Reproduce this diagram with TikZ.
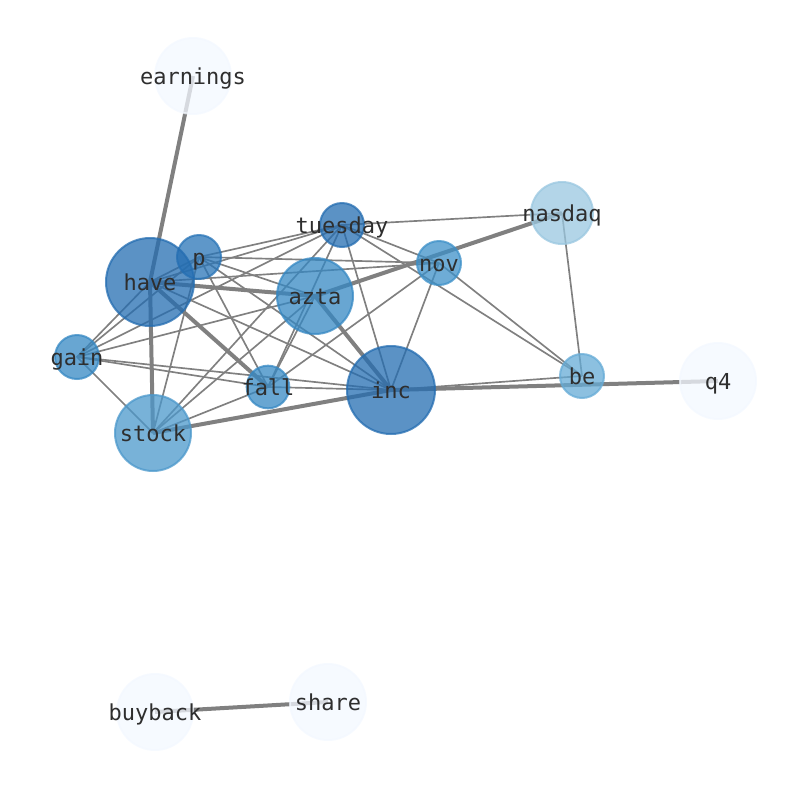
\documentclass[tikz,border=0pt]{standalone}
\usepackage{fontspec}
\setmonofont{DejaVu Sans Mono}
\usepackage{tikz}
\usetikzlibrary{calc}
\pgfdeclarelayer{edges}
\pgfsetlayers{edges,main}

\definecolor{bluedark}{RGB}{36,109,177}
\definecolor{bluep}{RGB}{40,116,183}
\definecolor{bluemid}{RGB}{53,136,195}
\definecolor{bluenov}{RGB}{61,144,200}
\definecolor{bluestock}{RGB}{75,152,203}
\definecolor{bluebe}{RGB}{101,171,214}
\definecolor{bluepale}{RGB}{154,199,224}
\definecolor{bluewhite}{RGB}{243,248,255}

\begin{document}
\begin{tikzpicture}[x=0.75pt,y=-0.75pt,
	word/.style={circle,inner sep=0pt,fill=#1,draw=#1,fill opacity=0.75,draw opacity=0.75,line width=1.5pt},
	tag/.style={inner sep=0pt,text height=13pt,text depth=1pt,text=black!82,text opacity=1,font=\fontsize{16.5}{16.5}\selectfont\ttfamily},
	link/.style={line width=1.25pt,color=black!50},
	heavy/.style={line width=3pt,color=black!50}]
		%%%%% START %%%%%
		
		\useasboundingbox (0,0) rectangle (794,790);
		
		\node[word=bluewhite, minimum size=57pt, label={[tag]center:earnings}] (earnings) at (193, 76) {};
		\node[word=bluepale, minimum size=46.5pt, label={[tag]center:nasdaq}] (nasdaq) at (562, 213) {};
		\node[word=bluedark, minimum size=33pt, label={[tag]center:tuesday}] (tuesday) at (342, 225) {};
		\node[word=bluep, minimum size=33pt, label={[tag]center:p}] (p) at (199, 257) {};
		\node[word=bluedark, minimum size=66pt, label={[tag]center:have}] (have) at (150, 282) {};
		\node[word=bluenov, minimum size=33pt, label={[tag]center:nov}] (nov) at (439, 263) {};
		\node[word=bluemid, minimum size=57pt, label={[tag]center:azta}] (azta) at (315, 296) {};
		\node[word=bluemid, minimum size=33pt, label={[tag]center:gain}] (gain) at (77, 357) {};
		\node[word=bluemid, minimum size=32pt, label={[tag]center:fall}] (fall) at (268, 387) {};
		\node[word=bluedark, minimum size=66pt, label={[tag]center:inc}] (inc) at (391, 390) {};
		\node[word=bluestock, minimum size=57pt, label={[tag]center:stock}] (stock) at (153, 433) {};
		\node[word=bluebe, minimum size=33pt, label={[tag]center:be}] (be) at (582, 376) {};
		\node[word=bluewhite, minimum size=57pt, label={[tag]center:q4}] (q4) at (718, 381) {};
		\node[word=bluewhite, minimum size=57pt, label={[tag]center:buyback}] (buyback) at (155, 712) {};
		\node[word=bluewhite, minimum size=57pt, label={[tag]center:share}] (share) at (328, 702) {};
		
		\begin{pgfonlayer}{edges}
		\foreach \a/\b in {have/p, have/tuesday, have/nov, have/inc, have/gain,
			p/tuesday, p/nov, p/azta, p/inc, p/fall, p/gain, p/stock,
			tuesday/nasdaq, tuesday/nov, tuesday/be, tuesday/inc, tuesday/fall, tuesday/gain, tuesday/stock,
			nov/inc, nov/be, nov/fall, nasdaq/be, be/inc,
			gain/azta, gain/fall, gain/inc, gain/stock,
			fall/inc, fall/stock, fall/azta, stock/azta}
			\draw[link] (\a.center) -- (\b.center);
		\foreach \a/\b in {earnings/have, have/stock, have/azta, have/fall, azta/inc,
			stock/inc, inc/q4, azta/nasdaq, buyback/share}
			\draw[heavy] (\a.center) -- (\b.center);
		\end{pgfonlayer}
		
		%%%%% END %%%%%
\end{tikzpicture}
\end{document}
